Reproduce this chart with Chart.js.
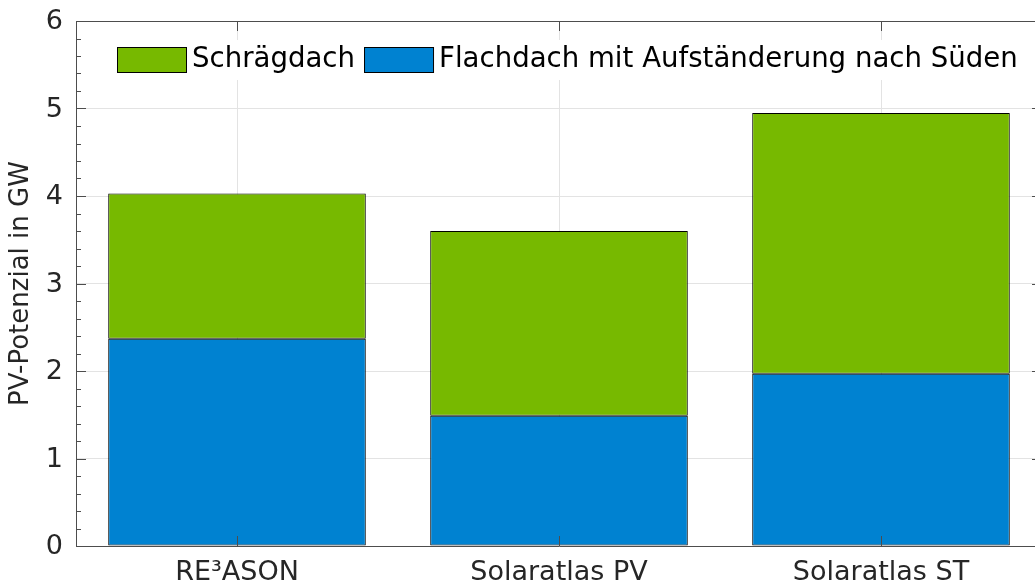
<!DOCTYPE html>
<html>
<head>
<meta charset="utf-8">
<script src="https://cdn.jsdelivr.net/npm/chart.js@4/dist/chart.umd.min.js"></script>
<style>
  html, body { margin: 0; padding: 0; background: #fff; overflow: hidden; }
  #wrap { width: 1043px; height: 586px; position: relative; }
</style>
</head>
<body>
<div id="wrap"><canvas id="pv-chart"></canvas></div>
<script>
const categories = ['RE\u00b3ASON', 'Solaratlas PV', 'Solaratlas ST'];
const flachdach = [2.37, 1.49, 1.97];
const schraegdach = [1.66, 2.11, 2.98];
const yTicks = [0, 1, 2, 3, 4, 5, 6];

const FONT = '"DejaVu Sans", sans-serif';
const GREEN = 'rgb(119, 185, 0)';
const BLUE = 'rgb(0, 130, 209)';
const AXIS = '#4d4d4d';

// legend entries in the order shown in the picture
const legendItems = [
  { text: 'Schrägdach', color: GREEN },
  { text: 'Flachdach mit Aufständerung nach Süden', color: BLUE }
];

// matlab-ish box: inward ticks, minor ticks, legend inside the axes
const matlabFrame = {
  id: 'matlabFrame',
  afterDraw(chart) {
    const ctx = chart.ctx;
    const a = chart.chartArea;
    const x = chart.scales.x;
    const y = chart.scales.y;

    ctx.save();

    // legend
    ctx.font = '27.6px ' + FONT;
    ctx.fillStyle = '#fff';
    ctx.fillRect(a.left + 34, a.top + 19, 918, 40);
    let lx = a.left + 41;
    const ly = a.top + 26;
    legendItems.forEach(item => {
      ctx.fillStyle = item.color;
      ctx.fillRect(lx, ly, 69, 25);
      ctx.strokeStyle = '#000';
      ctx.lineWidth = 1;
      ctx.strokeRect(lx + 0.5, ly + 0.5, 69, 25);
      lx += 75;
      ctx.fillStyle = '#000';
      ctx.textBaseline = 'middle';
      ctx.textAlign = 'left';
      ctx.fillText(item.text, lx, ly + 13);
      lx += ctx.measureText(item.text).width + 9;
    });

    ctx.strokeStyle = AXIS;
    ctx.lineWidth = 1;
    ctx.beginPath();
    // box
    ctx.rect(Math.round(a.left) + 0.5, Math.round(a.top) + 0.5,
      Math.round(a.right - a.left), Math.round(a.bottom - a.top));

    // y major + minor ticks on both sides
    for (let i = 0; i <= 30; i++) {
      const v = i / 5;
      const py = Math.round(y.getPixelForValue(v)) + 0.5;
      const len = (i % 5 === 0) ? 10 : 5;
      ctx.moveTo(a.left, py);
      ctx.lineTo(a.left + len, py);
      ctx.moveTo(a.right, py);
      ctx.lineTo(a.right - len, py);
    }

    // x ticks at category centres, top and bottom
    categories.forEach((c, i) => {
      const px = Math.round(x.getPixelForValue(i)) + 0.5;
      ctx.moveTo(px, a.bottom);
      ctx.lineTo(px, a.bottom - 10);
      ctx.moveTo(px, a.top);
      ctx.lineTo(px, a.top + 10);
    });
    ctx.stroke();
    ctx.restore();
  }
};

const data = {
  labels: categories,
  datasets: [
    {
      label: 'Flachdach mit Aufständerung nach Süden',
      data: flachdach,
      backgroundColor: BLUE,
      borderColor: '#000',
      borderWidth: 1,
      borderSkipped: false
    },
    {
      label: 'Schrägdach',
      data: schraegdach,
      backgroundColor: GREEN,
      borderColor: '#000',
      borderWidth: 1,
      borderSkipped: false
    }
  ]
};

const config = {
  type: 'bar',
  data: data,
  options: {
    responsive: true,
    maintainAspectRatio: false,
    animation: false,
    barPercentage: 0.8,
    categoryPercentage: 1.0,
    layout: {
      padding: { top: 21, right: 1, left: 0, bottom: 0 }
    },
    plugins: {
      legend: { display: false },
      tooltip: { enabled: false }
    },
    scales: {
      x: {
        stacked: true,
        offset: true,
        afterFit: scale => {
          scale.height = 40;
          scale.paddingLeft = 0;
          scale.paddingRight = 0;
        },
        grid: {
          offset: false,
          color: '#e3e3e3',
          drawTicks: false
        },
        border: { display: false },
        ticks: {
          color: '#262626',
          padding: 11,
          font: { family: FONT, size: 27 }
        }
      },
      y: {
        stacked: true,
        min: 0,
        max: 6,
        afterFit: scale => {
          scale.width = 76;
          scale.paddingTop = 0;
          scale.paddingBottom = 0;
        },
        afterBuildTicks: scale => {
          scale.ticks = yTicks.map(v => ({ value: v }));
        },
        grid: {
          color: '#e3e3e3',
          drawTicks: false
        },
        border: { display: false },
        ticks: {
          color: '#262626',
          padding: 13,
          labelOffset: 1,
          font: { family: FONT, size: 27 }
        },
        title: {
          display: true,
          text: 'PV-Potenzial in GW',
          color: '#262626',
          padding: { top: 6, bottom: 0 },
          font: { family: FONT, size: 26 }
        }
      }
    }
  },
  plugins: [matlabFrame]
};

const pvChart = new Chart(document.getElementById('pv-chart'), config);
</script>
</body>
</html>
